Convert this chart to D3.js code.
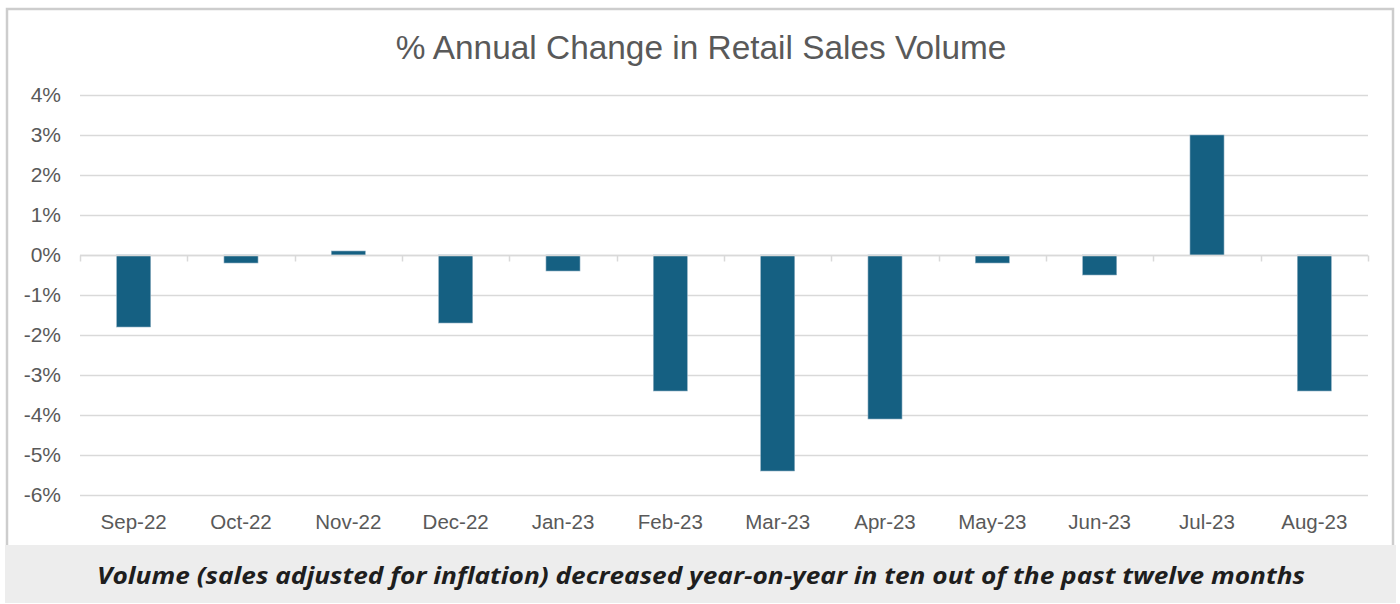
<!DOCTYPE html>
<html>
<head>
<meta charset="utf-8">
<script src="https://cdn.jsdelivr.net/npm/d3@7"></script>
<style>
  body { margin: 0; background: #fff; }
  svg { display: block; }
</style>
</head>
<body>
<div id="chart"></div>
<script>
const months = ["Sep-22", "Oct-22", "Nov-22", "Dec-22", "Jan-23", "Feb-23",
    "Mar-23", "Apr-23", "May-23", "Jun-23", "Jul-23", "Aug-23"];
const volumeChange = [-1.8, -0.2, 0.1, -1.7, -0.4, -3.4, -5.4, -4.1, -0.2, -0.5, 3.0, -3.4];
const yTicks = [4, 3, 2, 1, 0, -1, -2, -3, -4, -5, -6];
const title = "% Annual Change in Retail Sales Volume";
const caption = "Volume (sales adjusted for inflation) decreased year-on-year in ten out of the past twelve months";

const W = 1400, H = 604;
const margin = { top: 95, right: 32, bottom: 109, left: 80 },
    width = W - margin.left - margin.right,
    height = H - margin.top - margin.bottom;

const root = d3.select("#chart")
    .append("svg")
    .attr("width", W)
    .attr("height", H);

// frame + footer band
root.append("rect")
    .attr("x", 7).attr("y", 9)
    .attr("width", 1386).attr("height", 545)
    .attr("fill", "#fff")
    .attr("stroke", "#cdcdcd")
    .attr("stroke-width", 2.5);
root.append("rect")
    .attr("x", 5).attr("y", 545)
    .attr("width", 1391).attr("height", 58)
    .attr("fill", "#ededed");

root.append("text")
    .attr("x", 701).attr("y", 59)
    .attr("text-anchor", "middle")
    .attr("font-family", "Liberation Sans, Arial, sans-serif")
    .attr("font-size", 33.4)
    .attr("fill", "#595959")
    .text(title);

root.append("text")
    .attr("x", 701).attr("y", 584)
    .attr("text-anchor", "middle")
    .attr("font-family", "Open Sans, sans-serif")
    .attr("font-weight", 700)
    .attr("font-style", "italic")
    .attr("font-size", 23)
    .attr("textLength", 1208)
    .attr("lengthAdjust", "spacingAndGlyphs")
    .attr("fill", "#1e1e1e")
    .text(caption);

const svg = root.append("g")
    .attr("transform", `translate(${margin.left},${margin.top})`);

const x = d3.scaleBand()
    .range([0, width])
    .domain(months)
    .paddingInner(0.683)
    .paddingOuter(0.3415);

const y = d3.scaleLinear()
    .domain([-6, 4])
    .range([height, 0]);

// gridlines
svg.append("g")
    .selectAll("line")
    .data(yTicks)
    .join("line")
    .attr("x1", 0).attr("x2", width)
    .attr("y1", d => Math.round(y(d)) + 0.5)
    .attr("y2", d => Math.round(y(d)) + 0.5)
    .attr("stroke", "#d9d9d9")
    .attr("stroke-width", 1.5);

// y axis labels
const yAxis = svg.append("g")
    .call(d3.axisLeft(y).tickValues(yTicks).tickSize(0).tickPadding(19).tickFormat(d => d + "%"));
yAxis.select(".domain").remove();
yAxis.selectAll("text")
    .attr("font-family", "Liberation Sans, Arial, sans-serif")
    .attr("font-size", 21)
    .attr("fill", "#595959");

// bars
svg.selectAll("mybar")
    .data(volumeChange)
    .join("rect")
    .attr("x", (d, i) => x(months[i]))
    .attr("width", x.bandwidth())
    .attr("y", d => y(Math.max(0, d)))
    .attr("height", d => Math.abs(y(d) - y(0)))
    .attr("fill", "#156082")
    .attr("stroke", "#8fb0c2")
    .attr("stroke-width", 0.6);

// category axis on zero line with boundary ticks
const step = width / months.length;
const zeroAxis = svg.append("g")
    .attr("transform", `translate(0,${Math.round(y(0)) + 0.5})`);
zeroAxis.append("line")
    .attr("x1", 0).attr("x2", width)
    .attr("stroke", "#d9d9d9").attr("stroke-width", 1.5);
zeroAxis.selectAll("line.tick")
    .data(d3.range(months.length + 1))
    .join("line")
    .attr("class", "tick")
    .attr("x1", i => Math.round(i * step) + 0.5)
    .attr("x2", i => Math.round(i * step) + 0.5)
    .attr("y1", 0).attr("y2", 6)
    .attr("stroke", "#d9d9d9").attr("stroke-width", 1.5);

// month labels at bottom
const xAxis = svg.append("g")
    .attr("transform", `translate(0,${height})`)
    .call(d3.axisBottom(x).tickSize(0).tickPadding(19));
xAxis.select(".domain").remove();
xAxis.selectAll("text")
    .attr("font-family", "Liberation Sans, Arial, sans-serif")
    .attr("font-size", 20.5)
    .attr("fill", "#595959");
</script>
</body>
</html>
